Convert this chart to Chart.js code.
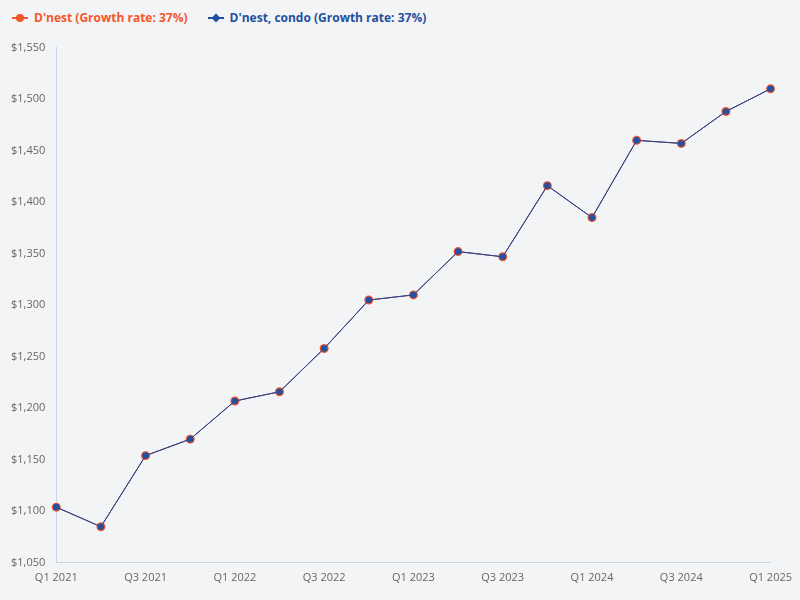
<!DOCTYPE html>
<html><head><meta charset="utf-8">
<script src="https://cdn.jsdelivr.net/npm/chart.js@4"></script>
<style>
html,body{margin:0;padding:0;background:#f3f4f6;font-family:"Open Sans",sans-serif;}
#legend{position:absolute;top:9px;left:12px;font-size:12px;font-weight:bold;display:flex;gap:20px;}
.item{display:flex;align-items:center;gap:6px;}
.sw{position:relative;width:16px;height:10px;}
.sw .ln{position:absolute;left:0;right:0;top:4px;height:2px;}
.sw .mk{position:absolute;left:4px;top:1px;width:8px;height:8px;border-radius:50%;}
#wrap{position:absolute;left:0;top:30px;width:800px;height:562px;}
</style></head><body>
<div id="legend">
<div class="item" style="color:#f4572a"><div class="sw"><div class="ln" style="background:#f4572a"></div><div class="mk" style="background:#f4572a"></div></div>D'nest (Growth rate: 37%)</div>
<div class="item" style="color:#2350a0"><div class="sw"><div class="ln" style="background:#2350a0"></div><div class="mk" style="background:#2350a0;transform:rotate(45deg) scale(0.8);border-radius:0"></div></div>D'nest, condo (Growth rate: 37%)</div>
</div>
<div id="wrap"><canvas id="c"></canvas></div>
<script>
const categories=["Q1 2021","Q2 2021","Q3 2021","Q4 2021","Q1 2022","Q2 2022","Q3 2022","Q4 2022","Q1 2023","Q2 2023","Q3 2023","Q4 2023","Q1 2024","Q2 2024","Q3 2024","Q4 2024","Q1 2025"];
const dnest=[1104,1085,1154,1170,1207,1216,1258,1305,1310,1352,1347,1416,1385,1460,1457,1488,1510];
const dnestCondo=[1104,1085,1154,1170,1207,1216,1258,1305,1310,1352,1347,1416,1385,1460,1457,1488,1510];
new Chart(document.getElementById('c'),{type:'line',
data:{labels:categories,datasets:[
{label:"D'nest (Growth rate: 37%)",data:dnest,order:2,borderColor:'#3d3d7a',borderWidth:1,backgroundColor:'#f4572a',pointBackgroundColor:'#f4572a',pointBorderWidth:0,pointRadius:4.5,pointHoverRadius:5},
{label:"D'nest, condo (Growth rate: 37%)",data:dnestCondo,order:1,borderColor:'#3d3d7a',borderWidth:1,pointBackgroundColor:'#2350a0',pointBorderWidth:0,pointRadius:3.3,pointHoverRadius:4}
]},
options:{responsive:true,maintainAspectRatio:false,animation:false,
layout:{padding:{right:22,top:0,left:0,bottom:0}},
plugins:{legend:{display:false},tooltip:{enabled:false}},
scales:{
x:{offset:false,grid:{display:false,drawTicks:false},border:{color:'#c9d3e6'},
ticks:{autoSkip:false,maxRotation:0,color:'#666',font:{family:'Open Sans',size:11},padding:8,
callback:function(v,i){return i%2===0?categories[i]:'';}}},
y:{min:1050,max:1550,grid:{display:false,drawTicks:false},border:{color:'#c9d3e6'},
ticks:{stepSize:50,color:'#666',font:{family:'Open Sans',size:11},padding:11,
callback:v=>'$'+v.toLocaleString('en-US')}}
}}});
</script></body></html>
